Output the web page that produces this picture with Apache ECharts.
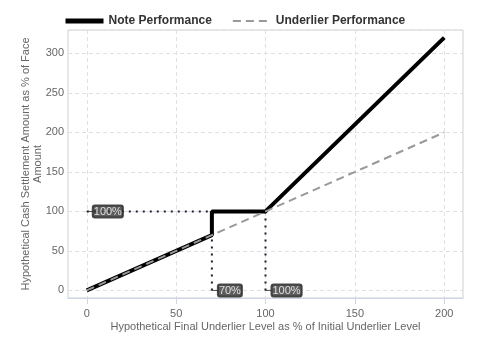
<!DOCTYPE html>
<html>
<head>
<meta charset="utf-8">
<script src="https://cdn.jsdelivr.net/npm/echarts@6/dist/echarts.min.js"></script>
<style>
  html, body { margin: 0; padding: 0; background: #fff; }
  #chart { width: 480px; height: 360px; }
</style>
</head>
<body>
<div id="chart"></div>
<script>
// payoff data, x = underlier level %, y = cash settlement %
const noteX = [0, 70, 70, 100, 200];
const noteY = [0, 70, 100, 100, 320];
const underX = [0, 200];
const underY = [0, 200];

// reference guides
const guideH = [[0, 100], [70, 100]];
const guideV70 = [[70, 0], [70, 100]];
const guideV100 = [[100, 0], [100, 100]];
const markers = [
  { value: [0, 100], text: '100%' },
  { value: [70, 0], text: '70%' },
  { value: [100, 0], text: '100%' }
];

const xTicks = [0, 50, 100, 150, 200];
const yTicks = [0, 50, 100, 150, 200, 250, 300];

const zip = (xs, ys) => xs.map((x, i) => [x, ys[i]]);

const chart = echarts.init(document.getElementById('chart'));

const guideStyle = { color: '#1b1f30', width: 2, type: [2, 5] };

chart.setOption({
  animation: false,
  textStyle: { fontFamily: 'Liberation Sans, Arial, sans-serif' },
  legend: {
    left: 58,
    top: 10,
    itemWidth: 38,
    itemHeight: 10,
    itemGap: 20,
    itemStyle: { opacity: 0 },
    data: [
      { name: 'Note Performance', lineStyle: { width: 5, color: '#000' } },
      { name: 'Underlier Performance', lineStyle: { width: 2, color: '#999', type: [8, 5] } }
    ],
    textStyle: { fontSize: 12, fontWeight: 'bold', color: '#333' }
  },
  grid: {
    left: 68, right: 17, top: 30, bottom: 62,
    outerBoundsMode: 'none',
    containLabel: false,
    show: true, borderColor: '#d0d0d0', borderWidth: 1
  },
  xAxis: {
    type: 'value',
    min: -10.5,
    max: 210.5,
    name: 'Hypothetical Final Underlier Level as % of Initial Underlier Level',
    nameLocation: 'middle',
    nameGap: 23,
    nameMoveOverlap: false,
    nameTextStyle: { fontSize: 11, color: '#666' },
    axisLine: { show: true, onZero: false, lineStyle: { color: '#ccd6eb' } },
    axisTick: { show: true, length: 6, customValues: xTicks, lineStyle: { color: '#ccd6eb' } },
    axisLabel: { customValues: xTicks, color: '#666', fontSize: 11, margin: 10 },
    splitLine: { show: true, lineStyle: { color: '#e0e0e0', type: [4, 3] } }
  },
  yAxis: {
    type: 'value',
    min: -9.6,
    max: 329.6,
    name: 'Hypothetical Cash Settlement Amount as % of Face\nAmount',
    nameLocation: 'middle',
    nameGap: 24,
    nameMoveOverlap: false,
    nameTextStyle: { fontSize: 11, color: '#666', lineHeight: 12 },
    axisLine: { show: false },
    axisTick: { show: false },
    axisLabel: { customValues: yTicks, color: '#666', fontSize: 11, margin: 4 },
    splitLine: { show: true, lineStyle: { color: '#e0e0e0', type: [4, 3] } }
  },
  series: [
    {
      name: 'guideH', type: 'line', data: guideH, symbol: 'none',
      lineStyle: guideStyle, silent: true, z: 1
    },
    {
      name: 'guideV70', type: 'line', data: guideV70, symbol: 'none',
      lineStyle: guideStyle, silent: true, z: 1
    },
    {
      name: 'guideV100', type: 'line', data: guideV100, symbol: 'none',
      lineStyle: guideStyle, silent: true, z: 1
    },
    {
      name: 'Note Performance', type: 'line', data: zip(noteX, noteY),
      symbol: 'none', lineStyle: { color: '#000', width: 4 }, z: 2
    },
    {
      name: 'Underlier Performance', type: 'line', data: zip(underX, underY),
      symbol: 'none', lineStyle: { color: '#999', width: 2, type: [8, 5] }, z: 3
    },
    {
      name: 'markers', type: 'scatter', symbolSize: 0, z: 5,
      data: markers.map(m => ({ value: m.value, name: m.text })),
      label: {
        show: true,
        position: 'right',
        distance: 0,
        formatter: p => '{d|}{b|' + p.name + '}',
        rich: {
          d: { width: 6, height: 1, backgroundColor: '#222', verticalAlign: 'middle' },
          b: {
            color: '#fff',
            fontSize: 11,
            backgroundColor: '#353535',
            borderColor: '#222',
            borderWidth: 1,
            borderRadius: 2,
            padding: [1, 1, 0, 1],
            verticalAlign: 'middle'
          }
        }
      }
    }
  ]
});
</script>
</body>
</html>
